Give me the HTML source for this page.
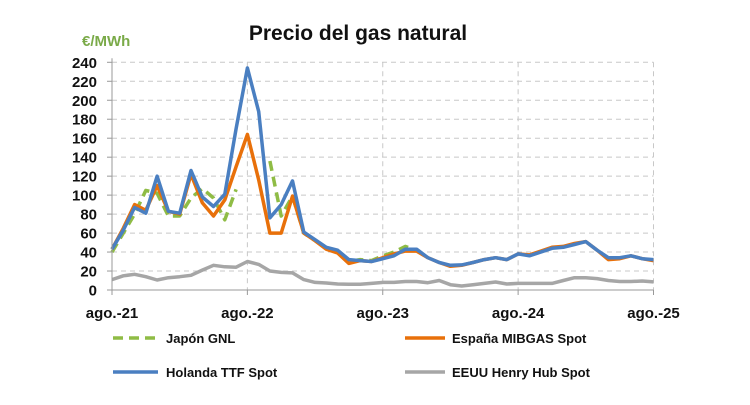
<!DOCTYPE html>
<html><head><meta charset="utf-8"><style>
body{margin:0;background:#fff;}
svg text{font-family:"Liberation Sans",sans-serif;font-weight:bold;}
</style></head><body>
<svg width="750" height="400" viewBox="0 0 750 400">
<text x="358" y="40" text-anchor="middle" font-size="21" fill="#111">Precio del gas natural</text>
<text x="82" y="46" font-size="15" fill="#7aaa48">€/MWh</text>
<g id="grid"></g><g id="series"></g><g id="axes"></g>
<g>
<g><line x1="113" y1="338" x2="158" y2="338" stroke="#8fbc45" stroke-width="3.5" stroke-dasharray="10,6"/><text x="166" y="343" font-size="13" fill="#111">Japón GNL</text></g>
<g><line x1="405" y1="338" x2="445" y2="338" stroke="#e8700a" stroke-width="3.5"/><text x="452" y="343" font-size="13" fill="#111">España MIBGAS Spot</text></g>
<g><line x1="113" y1="372" x2="158" y2="372" stroke="#4a7fc1" stroke-width="3.5"/><text x="166" y="377" font-size="13" fill="#111">Holanda TTF Spot</text></g>
<g><line x1="405" y1="372" x2="445" y2="372" stroke="#a6a6a6" stroke-width="3.5"/><text x="452" y="377" font-size="13" fill="#111">EEUU Henry Hub Spot</text></g>
</g>
</svg>
<script>
const xLabels=["ago.-21","ago.-22","ago.-23","ago.-24","ago.-25"];
const yTicks=[0,20,40,60,80,100,120,140,160,180,200,220,240];
const japon=[40,60,80,105,102,78,78,97,107,97,74,106,null,null,136,78,99,60,52,44,40,30,32,31,36,40,46,42,null,null,null,null,null,null,null,null,null,null,null,null,null,null,null,null,null,null,null,null,null];
const espana=[43,65,90,84,110,83,80,122,92,78,95,130,164,116,60,60,99,60,52,43,39,28,31,30,34,38,41,41,34,29,25,26,29,32,34,32,38,37,41,45,46,49,51,42,32,33,36,33,31];
const holanda=[43,63,87,81,120,83,81,126,98,88,101,170,234,188,76,90,115,61,53,45,42,32,31,30,33,36,43,43,34,29,26,26.5,29,32,34,32,38,36,40,44,45,48,51,42,34,34,36,33,32];
const eeuu=[11,15,16.5,14,10.5,13,14,15.5,21,26,24.5,24,30,27,20,18.6,18,11,8,7.4,6.3,6,6,7,8,8,9,9,7.7,10,5.6,4.2,5.6,7,8.4,6.3,7,7,7,7,10,13,13,12,10,9,9,9.5,8.5];
const NS="http://www.w3.org/2000/svg";
const X0=112,X1=653.5,Y0=290,Y1=62.3;
const xs=i=>X0+(X1-X0)*i/48;
const ys=v=>Y0-(Y0-Y1)*v/240;
function mk(tag,attrs,parent){const e=document.createElementNS(NS,tag);for(const k in attrs)e.setAttribute(k,attrs[k]);parent.appendChild(e);return e;}
const grid=document.getElementById('grid'),axes=document.getElementById('axes'),ser=document.getElementById('series');
yTicks.forEach(v=>{
 if(v>0){const l=mk('line',{x1:X0,x2:X1,y1:ys(v),y2:ys(v),stroke:'#c8c8c8','stroke-dasharray':'5,4','stroke-width':1},grid);
 
 }
 const t=mk('text',{x:97,y:ys(v)+5.5,'text-anchor':'end','font-size':15,fill:'#111'},axes);t.textContent=v;
 
 
 mk('line',{x1:X0-5,x2:X0,y1:ys(v),y2:ys(v),stroke:'#999'},axes);
});
xLabels.forEach((s,i)=>{
 const x=xs(i*12);
 if(i>0){const l=mk('line',{x1:x,x2:x,y1:Y1,y2:Y0,stroke:'#c8c8c8','stroke-dasharray':'5,4'},grid);
 
 }
 mk('line',{x1:x,x2:x,y1:Y0,y2:Y0+5,stroke:'#999'},axes);
 const t=mk('text',{x:x,y:318,'text-anchor':'middle','font-size':15,fill:'#111'},axes);t.textContent=s;
 
 
});
mk('line',{x1:X0,x2:X0,y1:Y1-4,y2:Y0,stroke:'#999'},axes);
mk('line',{x1:X0,x2:X1,y1:Y0,y2:Y0,stroke:'#999'},axes);
function path(arr){let d='',pen=false;arr.forEach((v,i)=>{if(v==null){pen=false;return;}d+=(pen?'L':'M')+xs(i).toFixed(1)+','+ys(v).toFixed(1);pen=true;});return d;}
function line(arr,color,name,dash){const p=mk('path',{d:path(arr),fill:'none',stroke:color,'stroke-width':3.5,'stroke-linejoin':'round'},ser);if(dash)p.setAttribute('stroke-dasharray',dash);
 
 }
line(eeuu,'#a6a6a6','series-eeuu-henry-hub');
line(japon,'#8fbc45','series-japon-gnl','10,6');
line(espana,'#e8700a','series-espana-mibgas');
line(holanda,'#4a7fc1','series-holanda-ttf');
</script>
</body></html>
